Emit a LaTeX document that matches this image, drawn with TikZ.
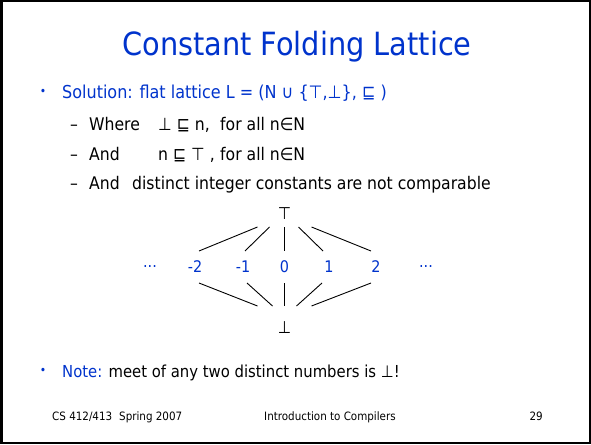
\documentclass[tikz,border=0pt]{standalone}
\usepackage{fontspec}
\setmainfont{DejaVu Sans Condensed}
\usetikzlibrary{positioning}
\definecolor{slideblue}{RGB}{0,51,204}

\begin{document}
\begin{tikzpicture}[x=1pt,y=-1pt,
  headline/.style={anchor=base,inner sep=0pt,text=slideblue,font=\fontsize{32}{36}\selectfont},
  lvlone/.style={anchor=base west,inner sep=0pt,font=\fontsize{17.8}{20}\selectfont},
  lvltwo/.style={anchor=base west,inner sep=0pt,font=\fontsize{17.4}{19}\selectfont},
  dot/.style={inner sep=0pt,text=slideblue,font=\fontsize{12}{12}\selectfont},
  elem/.style={inner sep=0pt,font=\fontsize{17}{18}\selectfont},
  num/.style={elem,text=slideblue,font=\fontsize{16}{18}\selectfont},
  foot/.style={inner sep=0pt,font=\fontsize{11.5}{13}\selectfont},
  edge/.style={line width=0.9pt,black}]
\useasboundingbox (0,0) rectangle (591,444);
\draw[line width=2.5pt] (1.25,1.25) rectangle (589.75,442.75);
\node[headline] (title) at (297,56) {Constant Folding Lattice};
% first bullet and its sub points
\node[dot] (dota) at (43,92) {•};
\node[lvlone,text=slideblue] (sol) at (62,98) {Solution: flat lattice L = (N ∪ \{⊤,⊥\}, ⊑ )};
\node[lvltwo] (dasha) at (70,130) {–};
\node[lvltwo] (where) at (89,130) {Where};
\node[lvltwo] (wherea) at (158,130) {⊥ ⊑ n,};
\node[lvltwo] (whereb) at (220,130) {for all n∈N};
\node[lvltwo] (dashb) at (70,160) {–};
\node[lvltwo] (andone) at (89,160) {And};
\node[lvltwo] (andonea) at (158,160) {n ⊑ ⊤ ,};
\node[lvltwo] (andoneb) at (220,160) {for all n∈N};
\node[lvltwo] (dashc) at (70,189) {–};
\node[lvltwo] (andtwo) at (89,189) {And};
\node[lvltwo] (andtwoa) at (132,189) {distinct integer constants are not comparable};
% the flat lattice
\node[elem] (top) at (284.5,214) {⊤};
\node[num] (dl) at (150,267) {...};
\node[num] (nmtwo) at (195,267) {-2};
\node[num] (nmone) at (243,267) {-1};
\node[num] (nzero) at (284.5,267) {0};
\node[num] (npone) at (329,267) {1};
\node[num] (nptwo) at (376,267) {2};
\node[num] (dr) at (426,267) {...};
\node[elem] (bot) at (284.5,328) {⊥};
\draw[edge] ([shift={(-27,13)}]top.center) -- ([shift={(4,-16)}]nmtwo.center);
\draw[edge] ([shift={(-15,13)}]top.center) -- ([shift={(2,-16)}]nmone.center);
\draw[edge] ([shift={(0,13)}]top.center) -- ([shift={(0,-16)}]nzero.center);
\draw[edge] ([shift={(14,13)}]top.center) -- ([shift={(-6,-16)}]npone.center);
\draw[edge] ([shift={(27,13)}]top.center) -- ([shift={(-5,-16)}]nptwo.center);
\draw[edge] ([shift={(4,16)}]nmtwo.center) -- ([shift={(-27,-22)}]bot.center);
\draw[edge] ([shift={(4,16)}]nmone.center) -- ([shift={(-12,-22)}]bot.center);
\draw[edge] ([shift={(0,16)}]nzero.center) -- ([shift={(0,-22)}]bot.center);
\draw[edge] ([shift={(-7,16)}]npone.center) -- ([shift={(12,-22)}]bot.center);
\draw[edge] ([shift={(-5,16)}]nptwo.center) -- ([shift={(27,-22)}]bot.center);
% second bullet
\node[dot] (dotb) at (43,371) {•};
\node[lvlone,font=\fontsize{16.5}{19}\selectfont] (note) at (62,377) {\textcolor{slideblue}{Note:} meet of any two distinct numbers is ⊥!};
% footer
\node[foot,anchor=base west] (course) at (52,420) {CS 412/413\hspace{7pt}Spring 2007};
\node[foot,anchor=base west] (lecture) at (264,420) {Introduction to Compilers};
\node[foot,anchor=base east] (page) at (543,420) {29};
\end{tikzpicture}
\end{document}
